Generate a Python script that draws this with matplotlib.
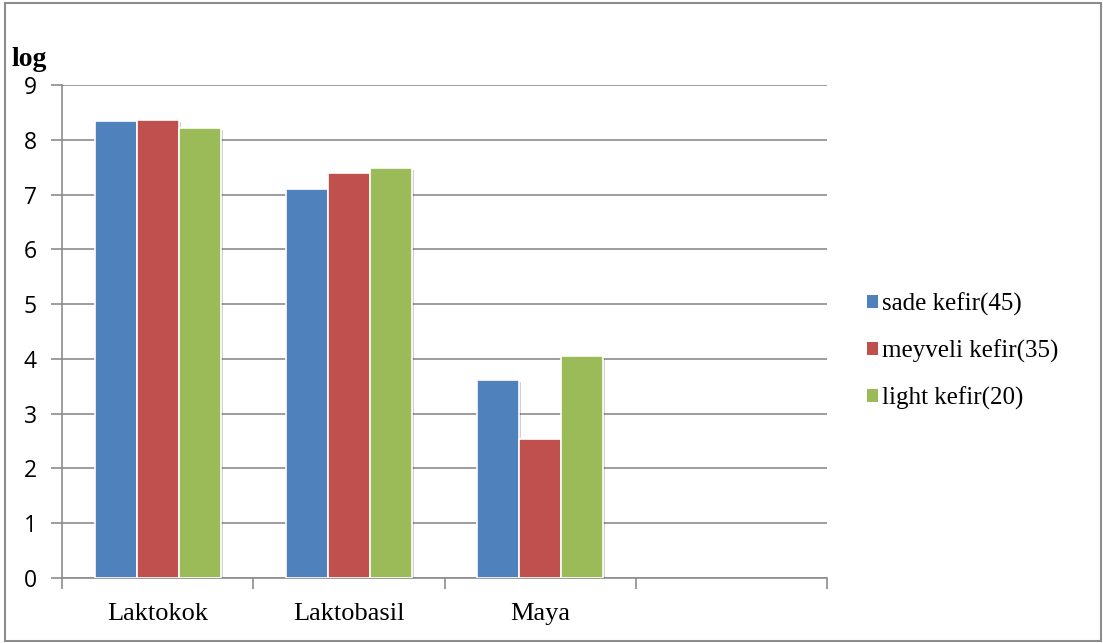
import matplotlib
matplotlib.use("Agg")
import matplotlib.pyplot as plt
import matplotlib.patheffects as pe
from matplotlib.patches import Rectangle, Patch
import numpy as np

categories = ["Laktokok", "Laktobasil", "Maya", ""]
series_names = ["sade kefir(45)", "meyveli kefir(35)", "light kefir(20)"]
sade = [8.34, 7.10, 3.61, np.nan]
meyveli = [8.36, 7.39, 2.53, np.nan]
light = [8.21, 7.48, 4.06, np.nan]
yticks = [0, 1, 2, 3, 4, 5, 6, 7, 8, 9]
colors = ["#4F81BD", "#C0504D", "#9BBB59"]

W, H = 1103, 643
fig = plt.figure(figsize=(W / 100, H / 100), dpi=100)
ax = fig.add_axes([62 / W, (H - 578) / H, (827 - 62) / W, (578 - 85) / H])

x = np.arange(len(categories))
bw = 0.22
shadow = [pe.SimplePatchShadow(offset=(1.5, -1.5), shadow_rgbFace="#000000", alpha=0.18), pe.Normal()]
handles = []
for i, (vals, name, c) in enumerate(zip([sade, meyveli, light], series_names, colors)):
    bars = ax.bar(x + (i - 1) * bw, vals, width=bw, color=c, edgecolor="white",
                  linewidth=1.2, zorder=3)
    for b in bars:
        b.set_path_effects(shadow)
    handles.append(Patch(facecolor=c, edgecolor="none", label=name))

ax.set_xlim(-0.5, len(categories) - 0.5)
ax.set_ylim(0, 9)
ax.set_yticks(yticks)
ax.set_yticklabels([str(t) for t in yticks], fontfamily="Open Sans", fontsize=16.5)
ax.yaxis.grid(True, color="#8c8c8c", linewidth=1.2, zorder=0)
ax.set_axisbelow(True)

ax.set_xticks(np.arange(-0.5, len(categories), 1.0))
ax.set_xticklabels([])
ax.set_xticks(x, minor=True)
ax.set_xticklabels(categories, minor=True, fontfamily="Liberation Serif", fontsize=19)
ax.tick_params(axis="x", which="minor", length=0, pad=18)
ax.tick_params(axis="x", which="major", length=8, width=1.2, color="#8c8c8c")
ax.tick_params(axis="y", which="major", length=8, width=1.2, color="#8c8c8c", pad=10)

for s in ["top", "right"]:
    ax.spines[s].set_visible(False)
for s in ["left", "bottom"]:
    ax.spines[s].set_color("#8c8c8c")
    ax.spines[s].set_linewidth(1.2)

fig.text(12 / W, 1 - 66 / H, "log", fontfamily="Liberation Serif", fontweight="bold",
         fontsize=20, ha="left", va="baseline")

leg = fig.legend(handles=handles, loc="center left", bbox_to_anchor=(867 / W, 1 - 351 / H),
                 frameon=False, prop={"family": "Liberation Serif", "size": 18},
                 handlelength=0.42, handleheight=0.42, handletextpad=0.2,
                 labelspacing=0.95, borderaxespad=0, borderpad=0)

fig.patches.append(Rectangle((5 / W, 2 / H), (1101 - 5) / W, (641 - 3) / H,
                             transform=fig.transFigure, fill=False,
                             edgecolor="#8c8c8c", linewidth=1.5))

fig.savefig("out.png", dpi=100)
